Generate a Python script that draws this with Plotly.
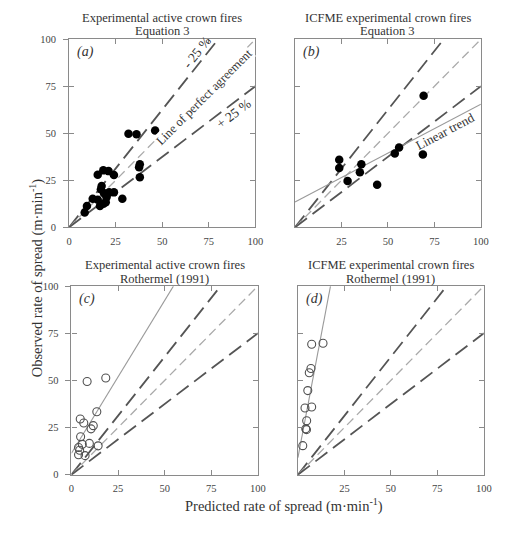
import plotly.graph_objects as go

# ---- data ----
a_pred = [31.9, 36.2, 46.2, 38.0, 37.6, 38.0, 15.4, 18.4, 21.2, 24.1, 17.1, 18.8, 24.1,
          12.7, 15.4, 20.1, 28.6, 16.6, 9.6, 8.4, 19.7, 21.5, 17.5, 18.5]
a_obs = [49.8, 49.5, 51.5, 33.6, 32.0, 26.7, 28.0, 30.3, 29.9, 27.8, 20.3, 18.1, 18.6,
         15.2, 14.7, 16.0, 15.2, 11.4, 11.4, 7.9, 13.4, 18.6, 22.0, 12.5]

b_pred = [69.2, 23.8, 23.8, 35.7, 34.9, 28.3, 44.2, 53.7, 56.0, 68.8]
b_obs = [70.0, 35.9, 31.6, 33.6, 29.3, 24.7, 22.6, 39.3, 42.4, 38.8]

c_pred = [8.4, 18.4, 13.6, 4.7, 6.6, 11.7, 10.5, 4.9, 5.8, 3.8, 9.6, 14.3, 3.8, 7.3, 4.4]
c_obs = [49.4, 51.3, 33.4, 29.5, 27.4, 26.0, 24.3, 20.1, 16.1, 14.4, 16.6, 15.3, 10.6, 10.1, 13.0]

d_pred = [7.4, 13.5, 7.0, 6.1, 5.3, 3.8, 7.4, 4.7, 4.2, 4.6, 2.6]
d_obs = [69.2, 69.7, 56.3, 54.1, 44.6, 35.4, 35.9, 28.6, 24.3, 23.9, 15.4]

ref_slopes = [1.25, 1.0, 0.75]           # -25 %, perfect agreement, +25 %
trend_b = (13.5, 0.52)                   # intercept, slope
trend_c = (11.4, 1.62)
trend_d = (9.0, 5.2)

tick_vals_full = [0, 25, 50, 75, 100]
tick_vals_right = [25, 50, 75, 100]

titles = [("Experimental active crown fires", "Equation 3"),
          ("ICFME experimental crown fires", "Equation 3"),
          ("Experimental active crown fires", "Rothermel (1991)"),
          ("ICFME experimental crown fires", "Rothermel (1991)")]
labels = ["(a)", "(b)", "(c)", "(d)"]

W, H = 505, 538
FONT = "Liberation Serif"
AXC = "#8a8a8a"
DARK = "#555555"
LIGHT = "#aaaaaa"

# panel pixel boxes (x0, x1, ytop, ybottom)
boxes = [(67.5, 258.0, 35.0, 227.0),
         (298.5, 488.5, 35.0, 227.0),
         (70.0, 260.5, 287.0, 479.5),
         (301.5, 491.5, 287.0, 479.5)]

fig = go.Figure()

def sfx(i):
    return "" if i == 0 else str(i + 1)

def ref_lines(i):
    xa, ya = "x" + sfx(i), "y" + sfx(i)
    for s in ref_slopes:
        xe = min(100.0, 100.0 / s)
        if s == 1.0:
            line = dict(color=LIGHT, width=1.3, dash="9px,5px")
        else:
            line = dict(color=DARK, width=1.8, dash="15px,7px")
        fig.add_trace(go.Scatter(x=[0, xe], y=[0, s * xe], mode="lines", line=line,
                                 xaxis=xa, yaxis=ya, showlegend=False, hoverinfo="skip"))

def trend(i, tr):
    xa, ya = "x" + sfx(i), "y" + sfx(i)
    b0, m = tr
    xe = min(100.0, (100.0 - b0) / m)
    fig.add_trace(go.Scatter(x=[0, xe], y=[b0, b0 + m * xe], mode="lines",
                             line=dict(color="#9a9a9a", width=1.1),
                             xaxis=xa, yaxis=ya, showlegend=False, hoverinfo="skip"))

def points(i, xs, ys, filled):
    xa, ya = "x" + sfx(i), "y" + sfx(i)
    if filled:
        mk = dict(symbol="circle", size=8.5, color="black")
    else:
        mk = dict(symbol="circle-open", size=8, color="#505050", line=dict(width=1.1))
    fig.add_trace(go.Scatter(x=xs, y=ys, mode="markers", marker=mk,
                             xaxis=xa, yaxis=ya, showlegend=False))

for i in range(4):
    ref_lines(i)
trend(1, trend_b)
trend(2, trend_c)
trend(3, trend_d)
points(0, a_pred, a_obs, True)
points(1, b_pred, b_obs, True)
points(2, c_pred, c_obs, False)
points(3, d_pred, d_obs, False)

tickfont = dict(family=FONT, size=10.5, color="#444444")
layout = dict(width=W, height=H, margin=dict(l=0, r=0, t=0, b=0),
              paper_bgcolor="white", plot_bgcolor="white", showlegend=False,
              font=dict(family=FONT, color="#333333"))

for i, (x0, x1, yt, yb) in enumerate(boxes):
    s = sfx(i)
    layout["xaxis" + s] = dict(domain=[x0 / W, x1 / W], anchor="y" + s, range=[0, 100],
                               tickvals=tick_vals_full if i in (0, 2) else tick_vals_right,
                               ticks="inside", ticklen=5, tickcolor=AXC, tickwidth=1,
                               showline=True, linecolor=AXC, linewidth=1.2, mirror="ticks",
                               showgrid=False, zeroline=False, tickfont=tickfont,
                               ticklabelstandoff=4)
    layout["yaxis" + s] = dict(domain=[1 - yb / H, 1 - yt / H], anchor="x" + s, range=[0, 100],
                               tickvals=tick_vals_full, ticks="inside", ticklen=5,
                               tickcolor=AXC, tickwidth=1, showline=True, linecolor=AXC,
                               linewidth=1.2, mirror="ticks", showgrid=False, zeroline=False,
                               showticklabels=False)

# outside tick parts + labels on left panels
for k, base in ((5, ""), (6, "3")):
    layout["yaxis%d" % k] = dict(overlaying="y" + base, anchor="x" + base, side="left",
                                 range=[0, 100], tickvals=tick_vals_full, ticks="outside",
                                 ticklen=5, tickcolor=AXC, tickwidth=1, showline=False,
                                 showgrid=False, zeroline=False, tickfont=tickfont,
                                 ticklabelstandoff=5)
fig.update_layout(**layout)
# invisible traces to activate overlay axes
fig.add_trace(go.Scatter(x=[0], y=[0], xaxis="x", yaxis="y5", mode="markers",
                         marker=dict(opacity=0), showlegend=False, hoverinfo="skip"))
fig.add_trace(go.Scatter(x=[0], y=[0], xaxis="x3", yaxis="y6", mode="markers",
                         marker=dict(opacity=0), showlegend=False, hoverinfo="skip"))

ann = []
title_rows = [(13.5, 27.0), (13.5, 27.0), (265.5, 280.0), (265.5, 280.0)]
for i, (x0, x1, yt, yb) in enumerate(boxes):
    cx = (x0 + x1) / 2 / W
    for line, yy in zip(titles[i], title_rows[i]):
        ann.append(dict(text=line, x=cx, y=1 - yy / H, xref="paper", yref="paper",
                        showarrow=False, xanchor="center", yanchor="middle",
                        font=dict(family=FONT, size=12.5, color="#333333")))
    s = sfx(i)
    ann.append(dict(text="<i>" + labels[i] + "</i>", x=0.03, y=0.985,
                    xref="x%s domain" % s, yref="y%s domain" % s, showarrow=False,
                    xanchor="left", yanchor="top",
                    font=dict(family=FONT, size=14, color="#333333")))

# in-plot text, panel (a)
ann.append(dict(text="- 25 %", x=68.5, y=93.0, xref="x", yref="y", showarrow=False,
                textangle=-51.6, font=dict(family=FONT, size=13.5, color="#333333")))
ann.append(dict(text="Line of perfect agreement", x=72.5, y=69.5, xref="x", yref="y",
                showarrow=False, textangle=-45, bgcolor="white", borderpad=0,
                font=dict(family=FONT, size=12.5, color="#333333")))
ann.append(dict(text="+ 25 %", x=88.5, y=60.5, xref="x", yref="y", showarrow=False,
                textangle=-37, font=dict(family=FONT, size=13.5, color="#333333")))
# panel (b)
ann.append(dict(text="Linear trend", x=80.6, y=50.9, xref="x2", yref="y2", showarrow=False,
                textangle=-27.7, font=dict(family=FONT, size=13, color="#333333")))

# axis titles
ann.append(dict(text="Observed rate of spread (m·min<sup>-1</sup>)", x=22 / W, y=1 - 279 / H,
                xref="paper", yref="paper", showarrow=False, textangle=-90,
                font=dict(family=FONT, size=14.5, color="#333333")))
ann.append(dict(text="Predicted rate of spread (m·min<sup>-1</sup>)", x=287 / W, y=1 - 523 / H,
                xref="paper", yref="paper", showarrow=False,
                font=dict(family=FONT, size=14.5, color="#333333")))
fig.update_layout(annotations=ann)

fig.write_html("out.html", config={"displayModeBar": False},
               post_script="document.body.style.margin='0px';document.body.style.padding='0px';")
